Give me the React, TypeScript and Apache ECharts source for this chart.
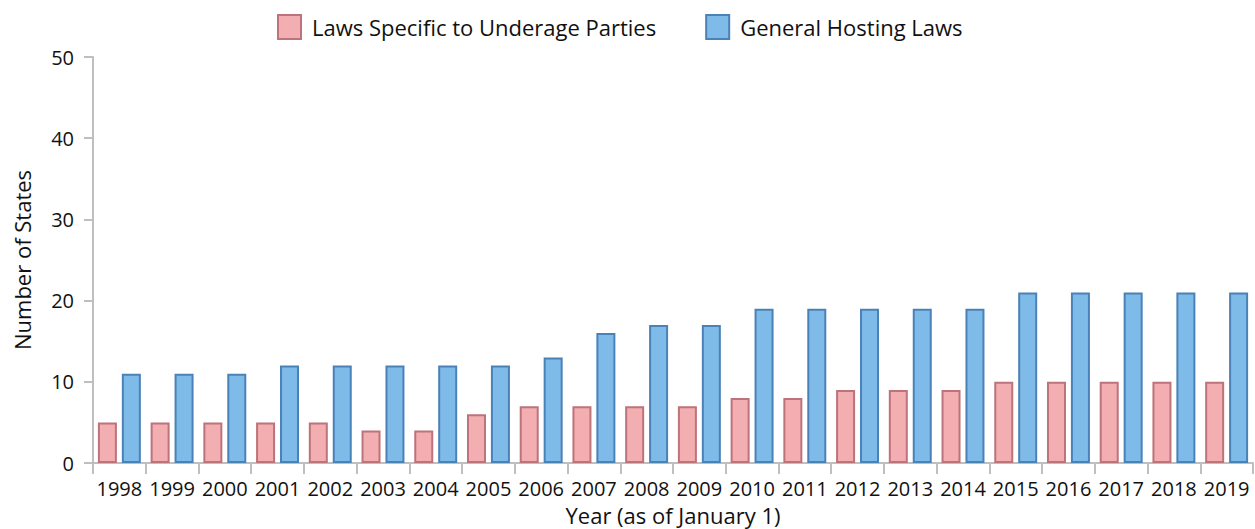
import React, { useEffect, useRef } from "react";
import * as echarts from "echarts";

const years = ["1998","1999","2000","2001","2002","2003","2004","2005","2006","2007","2008","2009","2010","2011","2012","2013","2014","2015","2016","2017","2018","2019"];
const underageLaws = [5,5,5,5,5,4,4,6,7,7,7,7,8,8,9,9,9,10,10,10,10,10];
const generalLaws = [11,11,11,12,12,12,12,12,13,16,17,17,19,19,19,19,19,21,21,21,21,21];
const yTicks = { min: 0, max: 50, interval: 10 };

const FONT = "'Open Sans', 'Noto Sans', sans-serif";

export default function App() {
  const ref = useRef<HTMLDivElement>(null);
  useEffect(() => {
    if (!ref.current) return;
    const chart = echarts.init(ref.current, undefined, { renderer: "svg" });
    chart.setOption({
      animation: false,
      textStyle: { fontFamily: FONT },
      legend: {
        top: 9,
        left: 272,
        icon: "rect",
        itemWidth: 23,
        itemHeight: 24,
        itemGap: 49,
        textStyle: { fontSize: 22, color: "#111", fontFamily: FONT, padding: [0, 0, 0, 6] },
        data: ["Laws Specific to Underage Parties", "General Hosting Laws"],
      },
      grid: { left: 93, right: 2, top: 57, bottom: 66, outerBoundsMode: "none", containLabel: false },
      xAxis: {
        type: "category",
        data: years,
        name: "Year (as of January 1)",
        nameLocation: "middle",
        nameGap: 39,
        nameTextStyle: { fontSize: 22, color: "#111", fontFamily: FONT, lineHeight: 24 },
        axisLine: { lineStyle: { color: "#bfbfbf", width: 2 } },
        axisTick: { show: true, length: 11, lineStyle: { color: "#bfbfbf", width: 2 } },
        axisLabel: { fontSize: 20, color: "#111", margin: 15, interval: 0, fontFamily: FONT },
      },
      yAxis: {
        type: "value",
        min: yTicks.min,
        max: yTicks.max,
        interval: yTicks.interval,
        name: "Number of States",
        nameLocation: "middle",
        nameGap: 60,
        nameTextStyle: { fontSize: 22, color: "#111", fontFamily: FONT },
        axisLine: { show: true, lineStyle: { color: "#bfbfbf", width: 2 } },
        axisTick: { show: true, length: 9, lineStyle: { color: "#bfbfbf", width: 2 } },
        axisLabel: { fontSize: 20, color: "#111", margin: 19, fontFamily: FONT },
        splitLine: { show: false },
      },
      series: [
        {
          name: "Laws Specific to Underage Parties",
          type: "bar",
          data: underageLaws,
          barWidth: 19,
          barGap: "26%",
          itemStyle: { color: "#f2aeb0", borderColor: "#bd737b", borderWidth: 2 },
        },
        {
          name: "General Hosting Laws",
          type: "bar",
          data: generalLaws,
          barWidth: 19,
          itemStyle: { color: "#7fbbe8", borderColor: "#4a82b8", borderWidth: 2 },
        },
      ],
    });
    return () => chart.dispose();
  }, []);
  return <div ref={ref} style={{ width: 1255, height: 529, position: "absolute", left: 0, top: 0 }} />;
}
